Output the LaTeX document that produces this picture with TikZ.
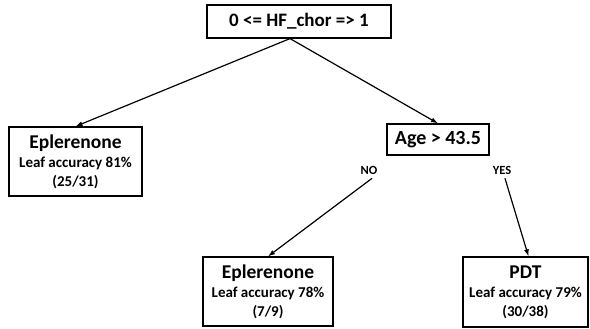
\documentclass[tikz,border=0pt]{standalone}
\usepackage{fontspec}
\setmainfont{Carlito}
\usetikzlibrary{arrows.meta}

\begin{document}
\begin{tikzpicture}[
    x=1pt,y=-1pt,
    split/.style={draw,black,line width=1.2pt,font=\bfseries\fontsize{19}{21}\selectfont,inner sep=0pt},
    leaf/.style={draw,black,line width=1.2pt,align=center,inner sep=0pt,minimum height=69,font=\bfseries\fontsize{15}{19}\selectfont},
    branch/.style={font=\bfseries\fontsize{12.5}{13}\selectfont,inner sep=1pt},
    edge/.style={-{Latex[length=7pt,width=5pt]},line width=1.2pt}
    ]
    \useasboundingbox (0, 0) rectangle (590, 329);
    \node[split,minimum width=184,minimum height=33] (root) at (299, 21.5) {0 <= HF\_chor => 1};
    \node[leaf,minimum width=133] (leafA) at (75.5, 161.5) {{\fontsize{19.5}{20}\selectfont Eplerenone}\\Leaf accuracy 81\%\\(25/31)};
    \node[split,minimum width=102,minimum height=31,font=\bfseries\fontsize{20}{22}\selectfont] (age) at (438, 139.5) {Age > 43.5};
    \node[branch] (no) at (369, 170) {NO};
    \node[branch] (yes) at (502, 170) {YES};
    \node[leaf,minimum width=130] (leafB) at (268, 291.5) {{\fontsize{19.5}{20}\selectfont Eplerenone}\\Leaf accuracy 78\%\\(7/9)};
    \node[leaf,minimum width=125,minimum height=70] (leafC) at (525.5, 292) {{\fontsize{19.5}{20}\selectfont PDT}\\Leaf accuracy 79\%\\(30/38)};
    \draw[edge] ([xshift=-9]root.south) -- (leafA.north);
    \draw[edge] ([xshift=-9]root.south) -- (age.north);
    \draw[edge] ([xshift=3,yshift=-3]no.south) -- (leafB.north);
    \draw[edge] ([xshift=3,yshift=-3]yes.south) -- ([xshift=3]leafC.north);
  \end{tikzpicture}
\end{document}
